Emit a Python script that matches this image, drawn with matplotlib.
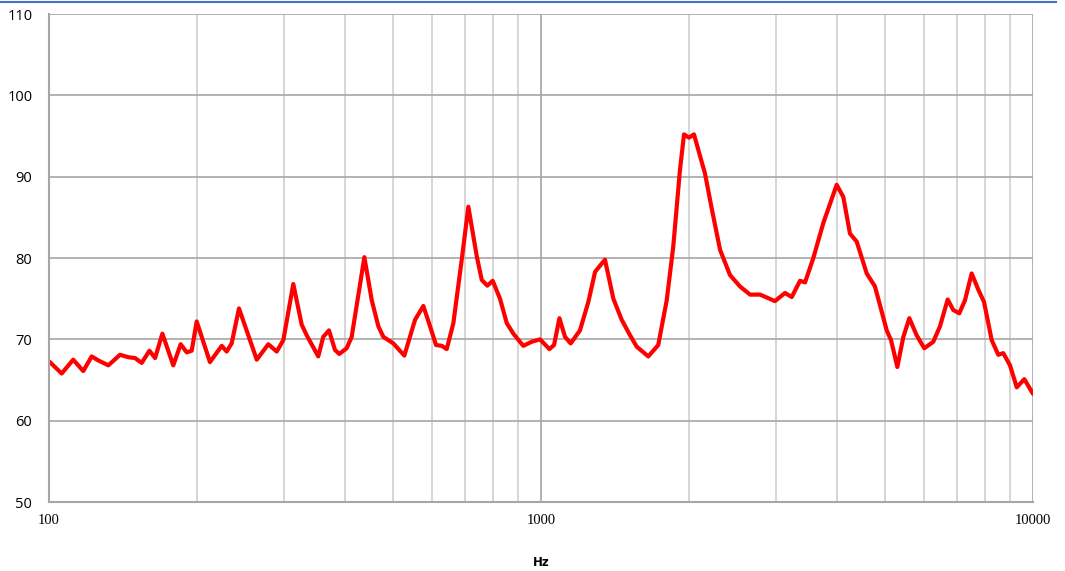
import numpy as np
from matplotlib import pyplot as plt
from matplotlib.lines import Line2D

# frequency response (Hz, dB)
freqs = [100, 106.1, 112.0, 117.4, 122.1, 126.0, 132.0, 139.4, 145.0, 149.6,
         154.3, 160.0, 164.3, 170.0, 178.9, 185.2, 190.5, 195.0, 199.6, 212.4,
         224.4, 229.7, 235.1, 243.3, 264.4, 279.1, 290.3, 299.4, 313.7, 326.3,
         334.0, 352.6, 360.9, 370.7, 381.3, 389.0, 402.7, 412.3, 437.5, 452.9,
         467.1, 478.2, 501.0, 527.5, 554.6, 576.6, 595.0, 611.9, 628.5, 643.3,
         663.6, 690.1, 711.8, 740.4, 757.9, 777.9, 797.7, 825.4, 851.8, 878.5,
         920.5, 957.4, 995.4, 1040, 1063, 1090, 1119, 1149, 1200, 1248,
         1288, 1349, 1403, 1459, 1517, 1565, 1652, 1731, 1801, 1857,
         1916, 1953, 1999, 2046, 2154, 2223, 2312, 2422, 2538, 2660,
         2787, 2989, 3133, 3233, 3361, 3441, 3577, 3748, 3990, 4116,
         4246, 4383, 4592, 4773, 5043, 5146, 5300, 5451, 5606, 5801,
         6012, 6271, 6471, 6708, 6886, 7082, 7274, 7505, 7742, 7951,
         8243, 8501, 8702, 8980, 9267, 9602, 10000]
levels = [67.3, 65.8, 67.5, 66.1, 67.9, 67.4, 66.8, 68.1, 67.8, 67.7,
          67.1, 68.6, 67.7, 70.7, 66.8, 69.4, 68.4, 68.6, 72.2, 67.2,
          69.2, 68.5, 69.5, 73.8, 67.5, 69.4, 68.5, 69.9, 76.8, 71.8,
          70.5, 67.9, 70.3, 71.1, 68.7, 68.2, 68.9, 70.3, 80.1, 74.8,
          71.6, 70.3, 69.5, 68.0, 72.4, 74.1, 71.6, 69.3, 69.2, 68.8,
          72.0, 79.8, 86.3, 80.2, 77.3, 76.6, 77.2, 75.0, 72.0, 70.7,
          69.2, 69.7, 70.0, 68.8, 69.3, 72.6, 70.3, 69.5, 71.1, 74.6,
          78.3, 79.8, 75.0, 72.4, 70.5, 69.1, 67.9, 69.3, 74.8, 81.4,
          90.8, 95.2, 94.8, 95.2, 90.4, 86.1, 81.0, 77.9, 76.5, 75.5,
          75.5, 74.7, 75.7, 75.2, 77.2, 77.0, 80.0, 84.3, 89.0, 87.5,
          83.0, 82.0, 78.1, 76.5, 71.1, 69.9, 66.6, 70.3, 72.6, 70.5,
          68.9, 69.7, 71.6, 74.9, 73.6, 73.2, 74.8, 78.1, 76.1, 74.6,
          69.9, 68.1, 68.3, 66.8, 64.1, 65.1, 63.3]

y_ticks = [50, 60, 70, 80, 90, 100, 110]
x_ticks = [100, 1000, 10000]

fig = plt.figure(figsize=(10.65, 5.71), dpi=100)
ax = fig.add_axes([49 / 1065, 1 - 502 / 571, 984 / 1065, 488 / 571])

ax.set_xscale('log')
ax.set_xlim(100, 10000)
ax.set_ylim(50, 110)

# grid: horizontal darker, vertical minor lighter
ax.grid(True, which='major', axis='y', color='#a6a6a6', lw=1.2)
ax.grid(True, which='major', axis='x', color='#a6a6a6', lw=1.2)
ax.grid(True, which='minor', axis='x', color='#d0d0d0', lw=1.2)
ax.set_axisbelow(True)

ax.plot(freqs, levels, color='#ff0000', lw=3.0, solid_joinstyle='round',
        solid_capstyle='round')

for side in ['top', 'right']:
    ax.spines[side].set_visible(False)
for side in ['left', 'bottom']:
    ax.spines[side].set_color('#a6a6a6')
    ax.spines[side].set_linewidth(1.5)

ax.set_yticks(y_ticks)
ax.set_yticklabels([str(v) for v in y_ticks], fontsize=10.5, family='Open Sans')
ax.set_xticks(x_ticks)
ax.set_xticklabels([str(v) for v in x_ticks], fontsize=10.5,
                   family='Liberation Serif')
ax.tick_params(axis='both', which='both', length=0)
ax.tick_params(axis='y', pad=12)
ax.tick_params(axis='x', pad=9)

# axis title sits well below the tick labels
fig.text(541 / 1065, 1 - 562 / 571, 'Hz', fontsize=8.5, fontweight='bold',
         ha='center', va='center')

# blue rule along the top of the picture
fig.add_artist(Line2D([0, 0.992], [0.997, 0.997], color='#4472c4', lw=1.5,
                      transform=fig.transFigure))

fig.savefig('out.png', dpi=100)
